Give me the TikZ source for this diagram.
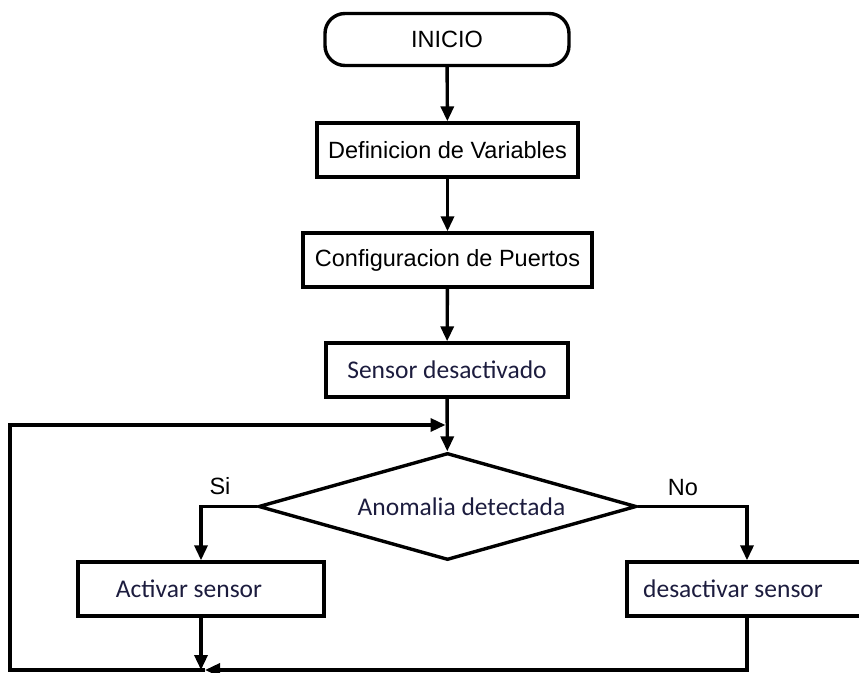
\documentclass[tikz,border=0pt]{standalone}
\usepackage{fontspec}
\setmainfont{Liberation Sans}
\newfontfamily\calib{Carlito}
\usetikzlibrary{arrows.meta,shapes.geometric,positioning}
\definecolor{fg}{RGB}{0,0,0}
\definecolor{tinta}{RGB}{28,28,62}
\definecolor{bg}{RGB}{255,255,255}
\tikzset{
  every picture/.style={fg, line width=3.4pt, line join=miter,
    >={Triangle[length=15pt,width=13pt]}},
  every node/.style={font=\fontsize{23.5}{27}\selectfont},
  % Cajas
  caja/.style={draw, rectangle, inner sep=0pt, minimum height=54pt},
  cajacal/.style={caja, text=tinta, font=\calib\fontsize{25.5}{29}\selectfont},
  terminal/.style={draw, rectangle, rounded corners=20pt, inner sep=0pt,
    minimum width=244pt, minimum height=52pt},
  decision/.style={draw, diamond, aspect=3.53, inner sep=0pt, text=tinta,
    font=\calib\fontsize{25.5}{29}\selectfont},
  % Conectores
  flecha/.style={->},
  rotulo/.style={inner sep=0pt},
}
\begin{document}
\begin{tikzpicture}[x=1pt, y=1pt]
  \useasboundingbox (0,0) rectangle (859,672);
  \clip (0,0) rectangle (859,672);
  % Secuencia principal
  \node[terminal] (inicio) at (447,632.5) {INICIO};
  \node[caja, minimum width=261pt] (defvar) at (447.5,522) {Definicion de Variables};
  \node[caja, minimum width=289pt] (puertos) at (447.5,412) {Configuracion de Puertos};
  \node[cajacal, minimum width=242pt] (sensor) at (447,302) {Sensor desactivado};
  \node[decision, minimum width=378pt, minimum height=107pt] (anomalia) at (447.5,165.5) {\hspace{28pt}Anomalia detectada};
  % Ramas
  \node[cajacal, minimum width=246pt] (activar) at (201,83) {\hspace{-24pt}Activar sensor};
  \node[cajacal, minimum width=240pt] (desactivar) at (747,83) {\hspace{-28pt}desactivar sensor};
  \draw[flecha] (inicio) -- (defvar);
  \draw[flecha] (defvar) -- (puertos);
  \draw[flecha] (puertos) -- (sensor);
  \draw[flecha] (sensor) -- (anomalia);
  \draw[flecha] (anomalia.west) -| (activar.north);
  \draw[flecha] (anomalia.east) -| (desactivar.north);
  \node[rotulo] (si) at (220,186) {Si};
  \node[rotulo] (no) at (683,184) {No};
  % Retorno al inicio del lazo
  \coordinate (union) at (205,2);
  \coordinate (esquina) at (10,2);
  \coordinate (entrada) at (445.5,247);
  \draw[flecha] (activar.south) -- (activar.south |- esquina);
  \draw[flecha] (desactivar.south) |- (union);
  \draw[flecha] (union) -- (esquina) |- (entrada);
\end{tikzpicture}
\end{document}
